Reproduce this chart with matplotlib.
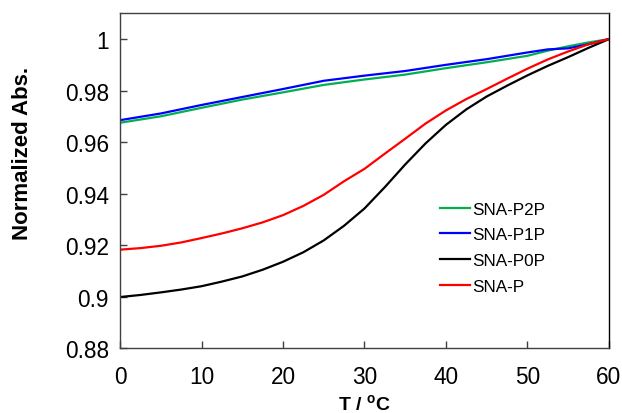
import numpy as np
import matplotlib
matplotlib.use("Agg")
import matplotlib.pyplot as plt
from matplotlib.ticker import FuncFormatter

plt.rcParams['font.family'] = ['Liberation Sans', 'DejaVu Sans']

# temperature grids (deg C) and normalized absorbance
t_fine = [0, 2.5, 5, 7.5, 10, 12.5, 15, 17.5, 20, 22.5, 25, 27.5, 30,
          32.5, 35, 37.5, 40, 42.5, 45, 47.5, 50, 52.5, 55, 57.5, 60]
sna_p0p = [0.8998, 0.9006, 0.9016, 0.9027, 0.9040, 0.9058, 0.9078, 0.9104, 0.9135,
           0.9172, 0.9218, 0.9275, 0.9342, 0.9425, 0.9513, 0.9595, 0.9667, 0.9727,
           0.9777, 0.9819, 0.9859, 0.9896, 0.9930, 0.9966, 1.0]
sna_p = [0.9182, 0.9188, 0.9197, 0.9210, 0.9227, 0.9245, 0.9265, 0.9288, 0.9316,
         0.9352, 0.9395, 0.9448, 0.9496, 0.9555, 0.9613, 0.9672, 0.9723, 0.9767,
         0.9806, 0.9846, 0.9885, 0.9921, 0.9952, 0.9980, 1.0]

t_flat = [0, 5, 10, 15, 20, 25, 30, 35, 40, 45, 50, 52.5, 55, 57.5, 60]
sna_p1p = [0.9685, 0.9711, 0.9744, 0.9775, 0.9806, 0.9838, 0.9858, 0.9876,
           0.9900, 0.9922, 0.9948, 0.9960, 0.9964, 0.9980, 1.0]
sna_p2p = [0.9675, 0.9700, 0.9733, 0.9765, 0.9793, 0.9822, 0.9843, 0.9862,
           0.9887, 0.9910, 0.9935, 0.9955, 0.9972, 0.9987, 1.0]

fig = plt.figure(figsize=(6.22, 4.14), dpi=100)
ax = fig.add_axes([0.193, 0.157, 0.786, 0.809])

ax.plot(t_flat, sna_p2p, color='#00B050', lw=1.6, label='SNA-P2P')
ax.plot(t_flat, sna_p1p, color='#0000FF', lw=1.6, label='SNA-P1P')
ax.plot(t_fine, sna_p0p, color='black', lw=1.6, label='SNA-P0P')
ax.plot(t_fine, sna_p, color='#FF0000', lw=1.6, label='SNA-P')

ax.set_xlim(0, 60)
ax.set_ylim(0.88, 1.0101)
ax.set_xticks(np.arange(0, 61, 10))
ax.set_yticks(np.arange(0.88, 1.001, 0.02))
ax.yaxis.set_major_formatter(FuncFormatter(lambda v, p: f"{v:.2f}".rstrip('0').rstrip('.')))
ax.tick_params(direction='in', length=5, width=1, labelsize=16.3, color='#404040')
ax.tick_params(axis='y', pad=8)
ax.tick_params(axis='x', pad=12)
for s in ax.spines.values():
    s.set_color('#404040')
    s.set_linewidth(1.0)
ax.spines['right'].set_color('black')

ax.set_xlabel(r'T / $^{\mathregular{o}}$C', fontsize=14, fontweight='bold', labelpad=4)
ax.set_ylabel('Normalized Abs.', fontsize=16, fontweight='bold')
ax.yaxis.set_label_coords(-0.178, 0.585)

ax.legend(loc='upper left', bbox_to_anchor=(0.64, 0.457), frameon=False,
          fontsize=12.3, handlelength=1.75, handletextpad=0.15, labelspacing=0.62,
          borderaxespad=0.0)

fig.savefig('out.png', dpi=100)
